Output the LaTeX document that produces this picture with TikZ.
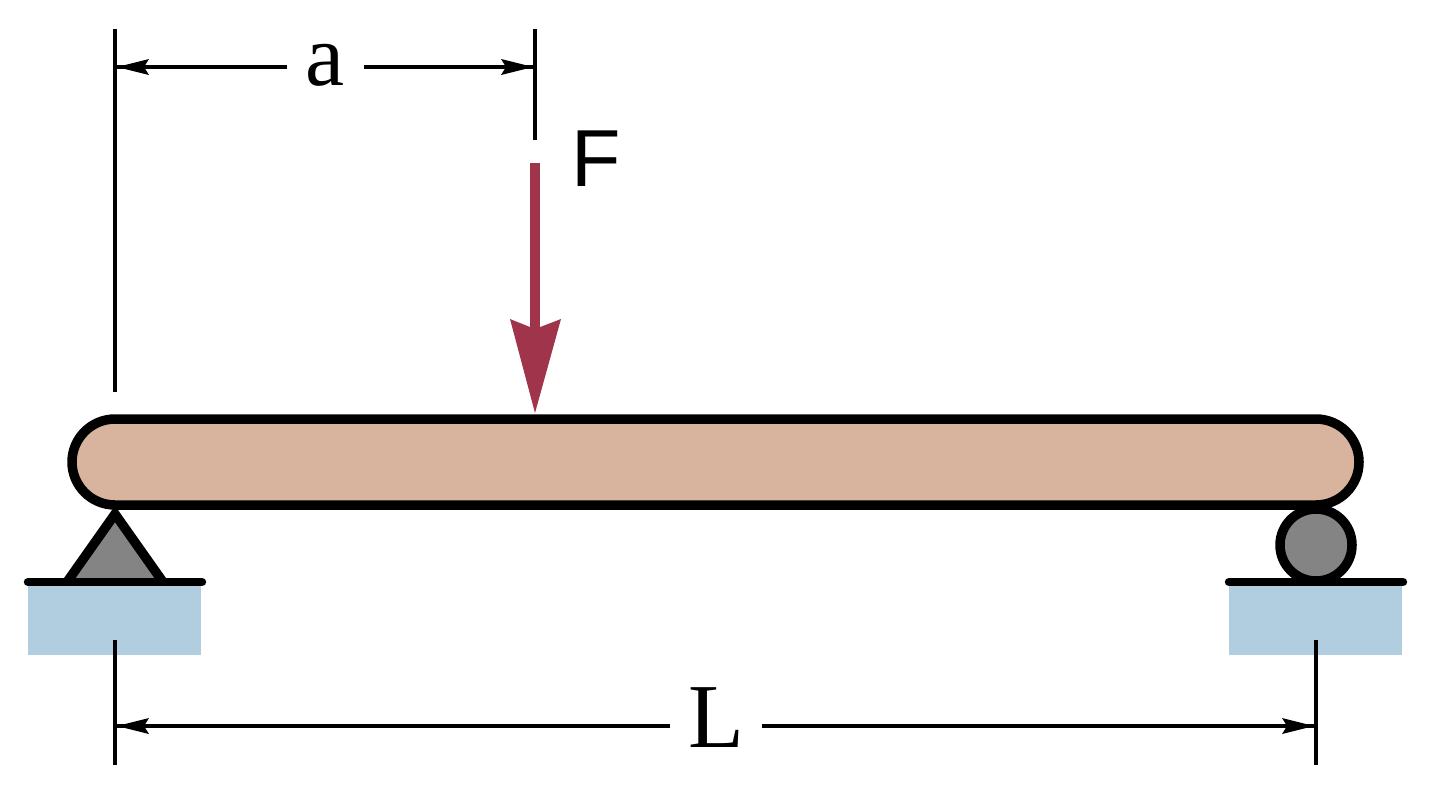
\documentclass[tikz,border=0pt]{standalone}
\usepackage{fontspec}
\setmainfont{Liberation Serif}
\newfontfamily\sansf{Liberation Sans}
\definecolor{beamc}{RGB}{216,179,157}
\definecolor{groundc}{RGB}{176,206,224}
\definecolor{forcec}{RGB}{160,52,74}
\definecolor{greyc}{RGB}{132,132,132}
\tikzset{
  x=0.01cm,y=-0.01cm,
  dimline/.style={line width=1pt,black},
  outline/.style={draw=black,line width=2.7pt},
  baseline/.style={draw=black,line width=2.4pt,line cap=round},
  label/.style={inner sep=0pt,text=black}
}
\begin{document}
\begin{tikzpicture}
\useasboundingbox (0,0) rectangle (1440,803);
\coordinate (lt) at (115,29); \coordinate (lb) at (115,392);
\coordinate (mt) at (535,29); \coordinate (mb) at (535,140);
\coordinate (bl1) at (115,640); \coordinate (bl2) at (115,765);
\coordinate (br1) at (1316,640); \coordinate (br2) at (1316,765);
\coordinate (ftop) at (535,163); \coordinate (ftip) at (535,413);
% ground
\fill[groundc] (28,582) rectangle (201,655);
\fill[groundc] (1229,582) rectangle (1402,655);
% supports
\draw[outline,fill=greyc,line join=miter] (67,582) -- (115,514) -- (163,582);
\draw[outline,fill=greyc] (1316,545) circle[radius=36];
\draw[baseline] (28,582) -- (202,582);
\draw[baseline] (1229,582) -- (1403,582);
% beam
\draw[outline,fill=beamc,rounded corners=0.43cm] (72,419) rectangle (1359,505);
% dimension lines
\draw[dimline] (lt) -- (lb);
\draw[dimline] (mt) -- (mb);
\draw[dimline] (bl1) -- (bl2);
\draw[dimline] (br1) -- (br2);
\node[label,font=\fontsize{25}{25}\selectfont] (a) at (325,65) {a};
\node[label,font=\fontsize{26}{26}\selectfont] (L) at (716,718) {L};
\node[label,font=\sansf\fontsize{23}{23}\selectfont] (F) at (596,159) {F};
\coordinate (a1) at (287,67); \coordinate (a2) at (364,67);
\coordinate (L1) at (670,726); \coordinate (L2) at (762,726);
\coordinate (a0) at (117,67); \coordinate (a3) at (533,67);
\coordinate (L0) at (117,726); \coordinate (L3) at (1314,726);
\draw[dimline] (a1) -- (a0);
\draw[dimline] (a2) -- (a3);
\draw[dimline] (L1) -- (L0);
\draw[dimline] (L2) -- (L3);
\foreach \p/\s in {a0/1,a3/-1,L0/1,L3/-1}{
  \fill[black] (\p) -- ++(\s*32,-8) -- ++(\s*-5,8) -- ++(\s*5,8) -- cycle;
}
% force
\draw[forcec,line width=3pt] (ftop) -- (535,332);
\fill[forcec] (ftip) -- (510,319) -- (535,329) -- (561,319) -- cycle;
\end{tikzpicture}
\end{document}
